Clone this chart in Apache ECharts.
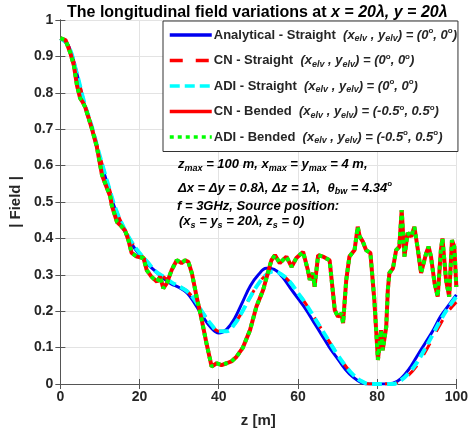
<!DOCTYPE html>
<html>
<head>
<meta charset="utf-8">
<script src="https://cdn.jsdelivr.net/npm/echarts@6/dist/echarts.min.js"></script>
<style>
  html, body { margin: 0; padding: 0; background: #fff; }
  #chart { width: 471px; height: 433px; }
</style>
</head>
<body>
<div id="chart"></div>
<script>
  // z positions (m) for the smooth curves
  var zGrid = [0, 2, 4, 6, 8, 10, 12, 14, 16, 18, 20, 22, 24, 26, 28, 30, 32, 34, 36, 38, 40,
    42, 44, 46, 48, 50, 52, 54, 56, 58, 60, 62, 64, 66, 68, 70, 72, 74, 76, 78, 80,
    82, 84, 86, 88, 90, 92, 94, 96, 98, 100];

  var analytical = [0.95, 0.93, 0.86, 0.77, 0.70, 0.62, 0.545, 0.475, 0.425, 0.385, 0.355,
    0.33, 0.31, 0.29, 0.275, 0.265, 0.25, 0.22, 0.185, 0.155, 0.14,
    0.15, 0.18, 0.225, 0.27, 0.30, 0.318, 0.315, 0.295, 0.265, 0.235,
    0.205, 0.17, 0.135, 0.10, 0.07, 0.04, 0.018, 0.004, 0.0, 0.0,
    0.0, 0.002, 0.015, 0.04, 0.075, 0.11, 0.145, 0.185, 0.215, 0.245];

  var cnStraight = [0.95, 0.93, 0.86, 0.775, 0.705, 0.625, 0.55, 0.48, 0.43, 0.39, 0.36,
    0.335, 0.31, 0.295, 0.28, 0.268, 0.255, 0.23, 0.195, 0.165, 0.145,
    0.145, 0.165, 0.20, 0.24, 0.275, 0.30, 0.31, 0.30, 0.28, 0.25,
    0.22, 0.185, 0.15, 0.115, 0.08, 0.05, 0.025, 0.008, 0.0, 0.0,
    0.0, 0.0, 0.008, 0.025, 0.05, 0.085, 0.125, 0.165, 0.2, 0.225];

  var adiStraight = [0.95, 0.93, 0.86, 0.775, 0.705, 0.625, 0.55, 0.48, 0.43, 0.39, 0.36,
    0.335, 0.31, 0.295, 0.28, 0.268, 0.255, 0.23, 0.195, 0.165, 0.145,
    0.145, 0.165, 0.20, 0.24, 0.275, 0.30, 0.31, 0.30, 0.28, 0.25,
    0.22, 0.185, 0.15, 0.115, 0.08, 0.05, 0.025, 0.008, 0.0, 0.0,
    0.0, 0.0, 0.01, 0.03, 0.058, 0.095, 0.135, 0.175, 0.21, 0.24];

  // bended case, CN and ADI give the same trace
  var bendZ = [0, 1.3, 2.5, 3.4, 4.2, 5, 5.6, 6.3, 7, 8, 9.2, 10.5, 11, 12.6, 13, 14.3, 15.3,
    16.4, 17.2, 18, 19.3, 21, 21.8, 23, 23.5, 24.4, 25.2, 26, 26.9, 28.1, 29.4, 30.6,
    31.5, 32.3, 33.2, 34.4, 35.7, 36.9, 38.2, 39.5, 40.7, 42, 43.2, 44.5, 46.1, 47.9,
    49.5, 51.2, 52.4, 53.3, 54.2, 55.4, 57.1, 58.4, 59.6, 61.3, 62.5, 63, 63.8, 64.2,
    65.1, 66.3, 68, 69.3, 70.1, 71, 71.4, 72.2, 73, 74.3, 75.1, 75.6, 76.4, 77.2, 78.3,
    79.3, 80.2, 81, 81.4, 82.3, 82.7, 83.1, 84, 84.8, 85.6, 86.2, 86.9, 87.7, 88.6,
    89.4, 90.3, 91.1, 92.4, 93, 93.6, 94.5, 95.3, 96.1, 96.5, 97.4, 98.2, 98.9, 99.5, 100];
  var bendField = [0.95, 0.945, 0.91, 0.876, 0.82, 0.785, 0.775, 0.76, 0.735, 0.70, 0.652,
    0.575, 0.56, 0.515, 0.49, 0.445, 0.435, 0.42, 0.395, 0.36, 0.35, 0.346, 0.313,
    0.295, 0.29, 0.281, 0.295, 0.263, 0.277, 0.313, 0.34, 0.332, 0.34, 0.336, 0.305,
    0.24, 0.176, 0.112, 0.048, 0.057, 0.052, 0.057, 0.062, 0.075, 0.1, 0.148, 0.212,
    0.258, 0.305, 0.34, 0.354, 0.332, 0.35, 0.322, 0.346, 0.363, 0.313, 0.286, 0.305,
    0.267, 0.354, 0.35, 0.34, 0.203, 0.185, 0.194, 0.167, 0.286, 0.35, 0.368, 0.432,
    0.405, 0.391, 0.368, 0.36, 0.23, 0.066, 0.148, 0.093, 0.157, 0.258, 0.305, 0.318,
    0.368, 0.377, 0.478, 0.35, 0.415, 0.405, 0.432, 0.368, 0.305, 0.36, 0.377, 0.35,
    0.277, 0.24, 0.368, 0.4, 0.286, 0.24, 0.395, 0.377, 0.267];

  var seriesNames = ['Analytical - Straight', 'CN - Straight', 'ADI - Straight', 'CN - Bended', 'ADI - Bended'];
  var elvAngles = ['0', '0', '0', '-0.5', '-0.5'];
  var elvAngles2 = ['0', '0', '0', '0.5', '0.5'];

  function pairs(xs, ys) {
    return xs.map(function (x, i) { return [x, ys[i]]; });
  }

  var FONT = 'Liberation Sans, Arial, sans-serif';
  var TXT = '#262626';

  var richText = {
    n: {fontFamily: FONT, fontWeight: 'bold', fontSize: 13, color: TXT},
    i: {fontFamily: FONT, fontWeight: 'bold', fontStyle: 'italic', fontSize: 13, color: TXT},
    sub: {fontFamily: FONT, fontWeight: 'bold', fontStyle: 'italic', fontSize: 9, color: TXT, padding: [8, 0, 0, 0]},
    sup: {fontFamily: FONT, fontWeight: 'bold', fontSize: 8, color: TXT, padding: [0, 0, 8, 0]}
  };

  var myChart = echarts.init(document.getElementById('chart'));
  var option = {
    animation: false,
    backgroundColor: '#fff',
    title: {
      left: 62,
      top: 0,
      text: '{a|The longitudinal field variations at }{b|x = 20λ, y = 20λ}',
      textStyle: {
        rich: {
          a: {fontFamily: FONT, fontWeight: 'bold', fontSize: 16, color: '#000'},
          b: {fontFamily: FONT, fontWeight: 'bold', fontStyle: 'italic', fontSize: 16, color: '#000'}
        }
      }
    },
    grid: {left: 60, right: 14, top: 20, bottom: 49},
    legend: {
      orient: 'vertical',
      left: 163,
      top: 21,
      itemWidth: 42,
      itemHeight: 14,
      itemGap: 9,
      padding: [6, 1, 6, 5],
      backgroundColor: '#fff',
      borderColor: '#333',
      borderWidth: 1,
      itemStyle: {opacity: 0},
      lineStyle: {width: 3.5},
      data: seriesNames,
      formatter: function (name) {
        var k = seriesNames.indexOf(name);
        return '{n|' + name + '  }{i|(x}{sub|elv}{i| , y}{sub|elv}{i|) = (' + elvAngles[k] +
          '}{sup|o}{i|, ' + elvAngles2[k] + '}{sup|o}{i|)}';
      },
      textStyle: {rich: richText, padding: [0, 0, 0, -3]}
    },
    xAxis: [{
      type: 'value',
      min: 0,
      max: 100,
      interval: 20,
      name: 'z [m]',
      nameLocation: 'middle',
      nameGap: 29,
      nameTextStyle: {fontFamily: FONT, fontWeight: 'bold', fontSize: 15, color: TXT},
      axisLine: {show: true, lineStyle: {color: '#555', width: 1}},
      axisTick: {show: true, inside: true, length: 5, lineStyle: {color: '#555'}},
      axisLabel: {fontFamily: FONT, fontWeight: 'bold', fontSize: 14, color: TXT, margin: 6},
      splitLine: {show: true, lineStyle: {color: '#e3e3e3', width: 1}}
    }, {
      type: 'value',
      position: 'top',
      min: 0,
      max: 100,
      interval: 20,
      axisLine: {show: true, lineStyle: {color: '#555', width: 1}},
      axisTick: {show: true, inside: true, length: 5, lineStyle: {color: '#555'}},
      axisLabel: {show: false},
      splitLine: {show: false}
    }],
    yAxis: [{
      type: 'value',
      min: 0,
      max: 1,
      interval: 0.1,
      name: '| Field |',
      nameLocation: 'middle',
      nameGap: 29,
      nameTextStyle: {fontFamily: FONT, fontWeight: 'bold', fontSize: 15, color: TXT},
      axisLine: {show: true, lineStyle: {color: '#555', width: 1}},
      axisTick: {show: true, inside: true, length: 5, lineStyle: {color: '#555'}},
      axisLabel: {
        fontFamily: FONT, fontWeight: 'bold', fontSize: 14, color: TXT, margin: 7,
        formatter: function (v) { return String(+v.toFixed(1)); }
      },
      splitLine: {show: true, lineStyle: {color: '#e3e3e3', width: 1}}
    }, {
      type: 'value',
      position: 'right',
      min: 0,
      max: 1,
      interval: 0.1,
      axisLine: {show: true, lineStyle: {color: '#555', width: 1}},
      axisTick: {show: true, inside: true, length: 5, lineStyle: {color: '#555'}},
      axisLabel: {show: false},
      splitLine: {show: false}
    }],
    graphic: [
      {type: 'text', z: 100, left: 178, top: 158, style: {text: '{i|z}{sub|max}{i| = 100 m, x}{sub|max}{i| = y}{sub|max}{i| = 4 m,}', rich: richText}},
      {type: 'text', z: 100, left: 178, top: 180, style: {text: '{i|Δx = Δy = 0.8λ, Δz = 1λ,  θ}{sub|bw}{i| = 4.34}{sup|o}', rich: richText}},
      {type: 'text', z: 100, left: 177, top: 200, style: {text: '{i|f = 3GHz, Source position:}', rich: richText}},
      {type: 'text', z: 100, left: 179, top: 215, style: {text: '{i|(x}{sub|s}{i| = y}{sub|s}{i| = 20λ, z}{sub|s}{i| = 0)}', rich: richText}}
    ],
    series: [
      {
        name: seriesNames[0], type: 'line', symbol: 'none', smooth: 0.4,
        data: pairs(zGrid, analytical),
        itemStyle: {color: '#0000f0'},
        lineStyle: {color: '#0000f0', width: 3}
      },
      {
        name: seriesNames[1], type: 'line', symbol: 'none', smooth: 0.4,
        data: pairs(zGrid, cnStraight),
        itemStyle: {color: '#ff0000'},
        lineStyle: {color: '#ff0000', width: 3, type: [13, 13]}
      },
      {
        name: seriesNames[2], type: 'line', symbol: 'none', smooth: 0.4,
        data: pairs(zGrid, adiStraight),
        itemStyle: {color: '#00ffff'},
        lineStyle: {color: '#00ffff', width: 4, type: [10, 5]}
      },
      {
        name: seriesNames[3], type: 'line', symbol: 'none',
        data: pairs(bendZ, bendField),
        itemStyle: {color: '#ff0000'},
        lineStyle: {color: '#ff0000', width: 4}
      },
      {
        name: seriesNames[4], type: 'line', symbol: 'none',
        data: pairs(bendZ, bendField),
        itemStyle: {color: '#00ff00'},
        lineStyle: {color: '#00ff00', width: 4, type: [4, 4]}
      }
    ]
  };
  myChart.setOption(option, true);
</script>
</body>
</html>
